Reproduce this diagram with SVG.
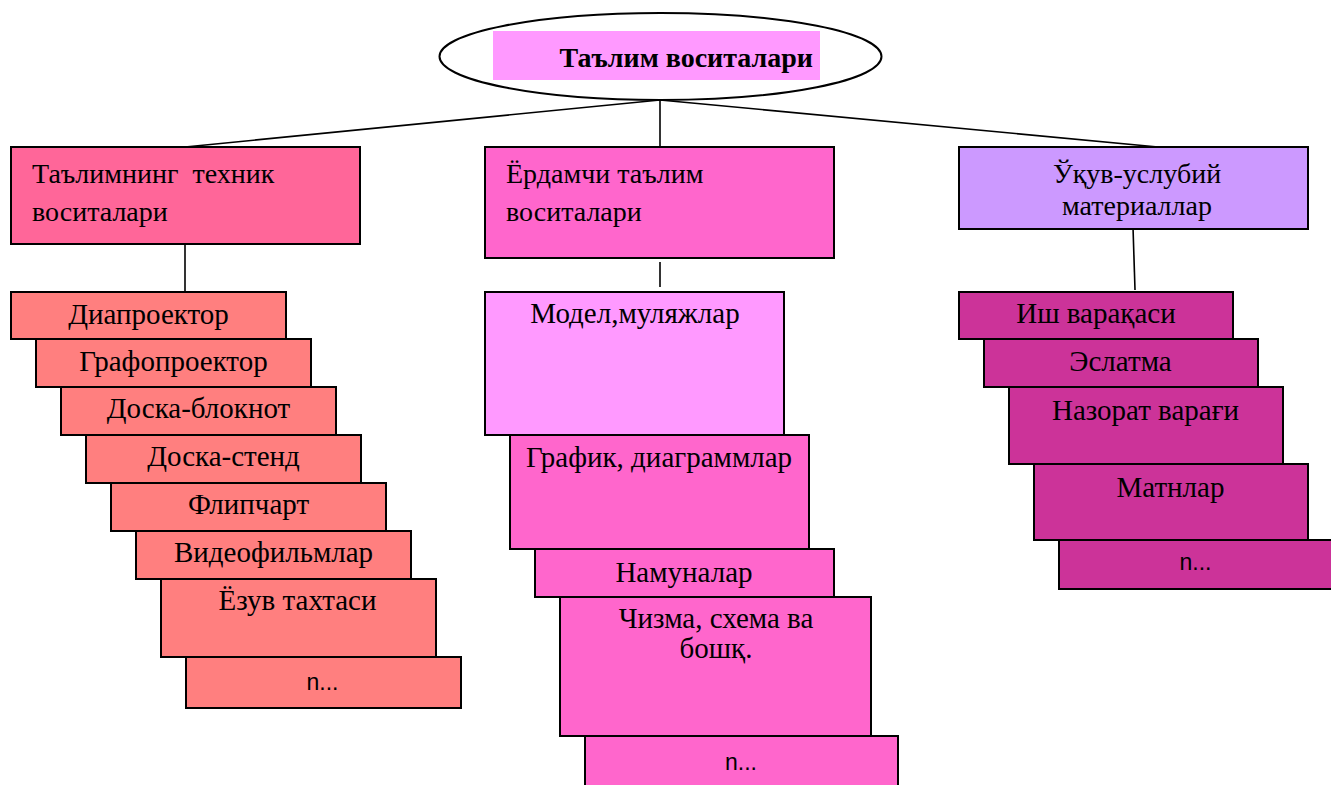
<svg xmlns="http://www.w3.org/2000/svg" width="1331" height="785" viewBox="0 0 1331 785">
<style>
.b{stroke:#000;stroke-width:2}
.t{font-family:"Liberation Serif","Times New Roman",serif;font-size:29px;fill:#000}
.h{font-size:28px}
.c{text-anchor:middle}
.s{font-family:"Liberation Sans",Arial,sans-serif;font-size:23px;fill:#000;text-anchor:middle}
.l{fill:none;stroke:#000;stroke-width:1.6}
.r1{fill:#FF7F7F}
.r2{fill:#FF66CC}
.r3{fill:#CC3399}
</style>
<rect width="1331" height="785" fill="#fff"/>
<g id="connectors">
<line class="l" x1="660" y1="100" x2="185" y2="147"/>
<line class="l" x1="660" y1="100" x2="660" y2="147"/>
<line class="l" x1="660" y1="100" x2="1158" y2="147"/>
<line class="l" x1="185" y1="244" x2="185" y2="292"/>
<line class="l" x1="660" y1="262" x2="660" y2="287"/>
<line class="l" x1="1133" y1="227" x2="1135" y2="290"/>
</g>
<g id="root">
<ellipse cx="660.5" cy="56.5" rx="221" ry="43.5" fill="#fff" class="b"/>
<rect x="493" y="31" width="327" height="49" fill="#FF99FF"/>
<text x="813" y="67" class="t" style="font-weight:bold;font-size:28px;text-anchor:end">Таълим воситалари</text>
</g>
<g id="cat1">
<rect x="11" y="147" width="349" height="97" fill="#FF6699" class="b"/>
<text x="32" y="183" class="t h" xml:space="preserve">Таълимнинг  техник</text>
<text x="32" y="221" class="t h">воситалари</text>
</g>
<g id="cat2">
<rect x="485" y="147" width="349" height="111" fill="#FF66CC" class="b"/>
<text x="506" y="183" class="t h">Ёрдамчи таълим</text>
<text x="506" y="221" class="t h">воситалари</text>
</g>
<g id="cat3">
<rect x="959" y="147" width="349" height="82" fill="#CC99FF" class="b"/>
<text x="1137" y="183" class="t h c">Ўқув-услубий</text>
<text x="1137" y="215" class="t h c">материаллар</text>
</g>
<g id="a1"><rect x="11" y="292" width="275" height="47" class="b r1"/><text x="148.5" y="324" class="t c">Диапроектор</text></g>
<g id="a2"><rect x="36" y="339" width="275" height="48" class="b r1"/><text x="173.5" y="371" class="t c">Графопроектор</text></g>
<g id="a3"><rect x="61" y="387" width="275" height="48" class="b r1"/><text x="198.5" y="418" class="t c">Доска-блокнот</text></g>
<g id="a4"><rect x="86" y="435" width="275" height="48" class="b r1"/><text x="223.5" y="466" class="t c">Доска-стенд</text></g>
<g id="a5"><rect x="111" y="483" width="275" height="48" class="b r1"/><text x="248.5" y="514" class="t c">Флипчарт</text></g>
<g id="a6"><rect x="136" y="531" width="275" height="48" class="b r1"/><text x="273.5" y="562" class="t c">Видеофильмлар</text></g>
<g id="a7"><rect x="161" y="579" width="275" height="78" class="b r1"/><text x="297.5" y="610" class="t c">Ёзув тахтаси</text></g>
<g id="a8"><rect x="186" y="657" width="275" height="51" class="b r1"/><text x="322.5" y="690" class="s">n...</text></g>
<g id="b1"><rect x="485" y="292" width="299" height="143" fill="#FF99FF" class="b"/><text x="635" y="323" class="t c">Модел,муляжлар</text></g>
<g id="b2"><rect x="510" y="435" width="299" height="114" class="b r2"/><text x="659" y="467" class="t c">График, диаграммлар</text></g>
<g id="b3"><rect x="535" y="549" width="299" height="48" class="b r2"/><text x="684" y="582" class="t c">Намуналар</text></g>
<g id="b4"><rect x="560" y="597" width="311" height="139" class="b r2"/><text x="716" y="628" class="t c">Чизма, схема ва</text><text x="716" y="658" class="t c">бошқ.</text></g>
<g id="b5"><rect x="585" y="736" width="313" height="60" class="b r2"/><text x="741" y="770" class="s">n...</text></g>
<g id="c1"><rect x="959" y="292" width="274" height="47" class="b r3"/><text x="1096" y="323" class="t c">Иш варақаси</text></g>
<g id="c2"><rect x="984" y="339" width="274" height="48" class="b r3"/><text x="1120.5" y="371" class="t c">Эслатма</text></g>
<g id="c3"><rect x="1009" y="387" width="274" height="77" class="b r3"/><text x="1145.5" y="420" class="t c">Назорат варағи</text></g>
<g id="c4"><rect x="1034" y="464" width="274" height="76" class="b r3"/><text x="1170.5" y="497" class="t c">Матнлар</text></g>
<g id="c5"><rect x="1059" y="540" width="274" height="49" class="b r3"/><text x="1195.5" y="570" class="s">n...</text></g>
</svg>
